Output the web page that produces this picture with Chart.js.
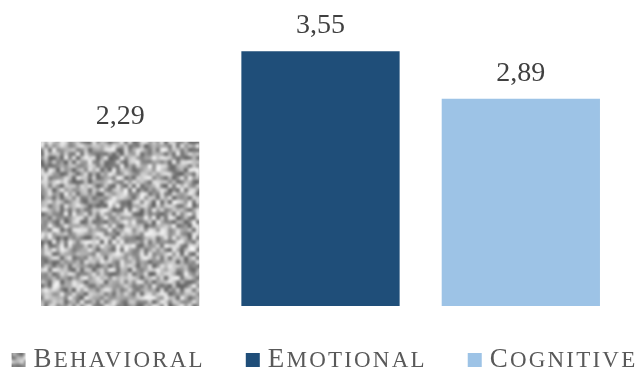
<!DOCTYPE html>
<html>
<head>
<meta charset="utf-8">
<title>Engagement</title>
<script src="https://cdn.jsdelivr.net/npm/chart.js@4"></script>
<style>
    html, body { margin: 0; padding: 0; background: #ffffff; }
    #box { width: 641px; height: 374px; }
</style>
</head>
<body>
<div id="box"><canvas id="engagement"></canvas></div>
<script>
// Data
const categories = ["Behavioral", "Emotional", "Cognitive"];
const scores = [2.29, 3.55, 2.89];

// Granite texture for the first bar (seeded, so it is the same every time)
function makeGranite() {
    let seed = 12345;
    const rand = () => {
        seed = (seed * 1103515245 + 12345) % 2147483648;
        return seed / 2147483648;
    };
    let small = document.createElement("canvas");
    small.width = 100;
    small.height = 100;
    let sctx = small.getContext("2d");
    for (let y = 0; y < 100; y++) {
        for (let x = 0; x < 100; x++) {
            let g = Math.round(100 + rand() * 140);
            sctx.fillStyle = "rgb(" + g + "," + g + "," + g + ")";
            sctx.fillRect(x, y, 1, 1);
        }
    }
    // big enough to cover the whole canvas, so no seam shows
    let big = document.createElement("canvas");
    big.width = 400;
    big.height = 400;
    let bctx = big.getContext("2d");
    bctx.imageSmoothingEnabled = true;
    bctx.imageSmoothingQuality = "high";
    bctx.drawImage(small, 0, 0, 400, 400);
    return bctx.createPattern(big, "no-repeat");
}

const granite = makeGranite();
const barColors = [granite, "#1f4e79", "#9dc3e6"];

// Value labels above the bars
const valueLabels = {
    id: "valueLabels",
    afterDatasetsDraw(chart) {
        let ctx = chart.ctx;
        let meta = chart.getDatasetMeta(0);
        ctx.save();
        ctx.font = "28px 'Liberation Serif'";
        ctx.fillStyle = "#404040";
        ctx.textAlign = "center";
        ctx.textBaseline = "alphabetic";
        meta.data.forEach((bar, i) => {
            let txt = chart.data.datasets[0].data[i].toFixed(2).replace(".", ",");
            ctx.fillText(txt, bar.x, bar.y - 18);
        });
        ctx.restore();
    }
};

// Legend with small caps look
const capsLegend = {
    id: "capsLegend",
    afterDraw(chart) {
        let ctx = chart.ctx;
        let ds = chart.data.datasets[0];
        let big = "27px 'Liberation Serif'";
        let small = "23px 'Liberation Serif'";
        let spacing = 2.2;
        let boxSize = 14;
        let gap = 8;
        let between = 41;
        let baseline = 367;

        ctx.save();
        ctx.letterSpacing = spacing + "px";
        // measure the items
        let items = chart.data.labels.map((label, i) => {
            ctx.font = big;
            let w1 = ctx.measureText(label[0]).width;
            ctx.font = small;
            let w2 = ctx.measureText(label.slice(1).toUpperCase()).width;
            return { label: label, w1: w1, w2: w2, width: boxSize + gap + w1 + w2 };
        });
        let total = items.reduce((s, it) => s + it.width, 0) + between * (items.length - 1);
        let x = (chart.width - total) / 2 + 4;

        items.forEach((it, i) => {
            ctx.fillStyle = ds.backgroundColor[i];
            ctx.fillRect(x, baseline - boxSize, boxSize, boxSize);
            let tx = x + boxSize + gap;
            ctx.fillStyle = "#595959";
            ctx.textAlign = "left";
            ctx.textBaseline = "alphabetic";
            ctx.font = big;
            ctx.fillText(it.label[0], tx, baseline);
            ctx.font = small;
            ctx.fillText(it.label.slice(1).toUpperCase(), tx + it.w1, baseline);
            x += it.width + between;
        });
        ctx.restore();
    }
};

// Build chart
let canvas = document.getElementById("engagement").getContext("2d");
let chart = new Chart(canvas, {
    type: "bar",
    data: {
        labels: categories,
        datasets: [{
            label: "Engagement",
            data: scores,
            backgroundColor: barColors,
            borderWidth: 0,
            barPercentage: 0.79,
            categoryPercentage: 1
        }]
    },
    options: {
        responsive: true,
        maintainAspectRatio: false,
        animation: false,
        layout: {
            padding: { top: 19, bottom: 68, left: 20, right: 20 }
        },
        scales: {
            x: { display: false },
            y: { display: false, min: 0, max: 4 }
        },
        plugins: {
            legend: { display: false },
            tooltip: { enabled: false }
        }
    },
    plugins: [valueLabels, capsLegend]
});
</script>
</body>
</html>
